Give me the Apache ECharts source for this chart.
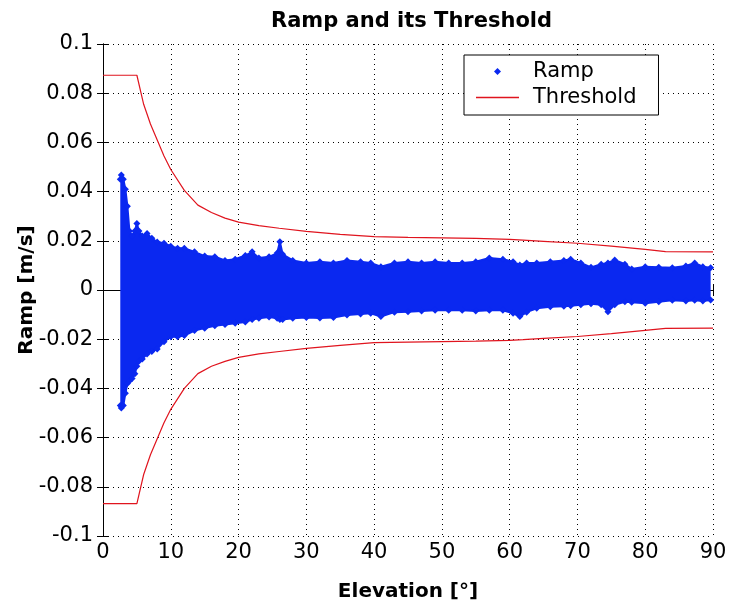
<!DOCTYPE html>
<html><head><meta charset="utf-8">
<script src="https://cdn.jsdelivr.net/npm/echarts@6/dist/echarts.min.js"></script>
<style>html,body{margin:0;padding:0;background:#fff}#c{width:731px;height:611px}</style>
</head><body><div id="c"></div>
<script>
// Ramp scatter cloud, read as its upper and lower envelope per elevation
const rampX = [2.55, 2.7, 3.0, 3.3, 3.6, 3.9, 4.3, 4.7, 5.0, 5.3, 5.8, 6.5, 7.2, 8.0, 9.0, 10.0, 11.0, 12.0, 13.5, 15, 16.5, 18, 19.5, 21, 22, 23, 24.5, 25.7, 26.1, 26.5, 28, 30, 32, 34, 36, 38, 39.5, 41, 43, 45, 47, 49, 51, 53, 55, 57, 59, 60.5, 61.5, 62.5, 64, 66, 68, 69, 70.5, 72, 73.5, 74.5, 75.5, 77, 78, 80, 82, 84, 86, 87.3, 88.5, 89.65];
const rampUpper = [0.045, 0.0467, 0.045, 0.041, 0.034, 0.024, 0.022, 0.024, 0.027, 0.024, 0.022, 0.023, 0.021, 0.0195, 0.019, 0.0178, 0.017, 0.017, 0.0155, 0.0138, 0.0135, 0.012, 0.0125, 0.014, 0.0155, 0.013, 0.0135, 0.015, 0.0196, 0.0145, 0.012, 0.011, 0.0115, 0.011, 0.012, 0.0115, 0.011, 0.0095, 0.011, 0.0115, 0.011, 0.0115, 0.011, 0.011, 0.0115, 0.013, 0.0125, 0.0115, 0.0102, 0.011, 0.011, 0.0115, 0.012, 0.0125, 0.011, 0.0092, 0.0105, 0.011, 0.0122, 0.0105, 0.0085, 0.0095, 0.0092, 0.009, 0.0098, 0.011, 0.0095, 0.009];
const rampLower = [-0.047, -0.048, -0.047, -0.042, -0.038, -0.037, -0.036, -0.034, -0.031, -0.029, -0.028, -0.026, -0.025, -0.024, -0.021, -0.019, -0.019, -0.0185, -0.0165, -0.0155, -0.0145, -0.014, -0.0135, -0.013, -0.012, -0.0115, -0.011, -0.0115, -0.012, -0.012, -0.0115, -0.0112, -0.0114, -0.0112, -0.0102, -0.0098, -0.0095, -0.0108, -0.009, -0.0088, -0.0085, -0.0082, -0.0082, -0.0082, -0.0085, -0.0082, -0.0082, -0.0095, -0.0108, -0.009, -0.0074, -0.0068, -0.0066, -0.0064, -0.006, -0.0056, -0.006, -0.0088, -0.006, -0.0048, -0.005, -0.0054, -0.0048, -0.0042, -0.0045, -0.0042, -0.0045, -0.0041];

// Threshold curves
const thrX = [0, 5, 6, 7, 8, 9, 10, 12, 14, 16, 18, 20, 23, 26, 30, 35, 40, 45, 50, 55, 60, 62, 65, 70, 75, 80, 83, 90];
const thrUpper = [0.0873, 0.0873, 0.0755, 0.0675, 0.061, 0.0545, 0.049, 0.0405, 0.0345, 0.0315, 0.0292, 0.0276, 0.0262, 0.0251, 0.0238, 0.0226, 0.0217, 0.0214, 0.0212, 0.021, 0.0206, 0.0203, 0.0198, 0.019, 0.0178, 0.0165, 0.0156, 0.0155];
const thrLower = [-0.0868, -0.0868, -0.075, -0.067, -0.0605, -0.054, -0.0485, -0.040, -0.034, -0.031, -0.029, -0.0274, -0.026, -0.025, -0.0237, -0.0225, -0.0214, -0.0212, -0.021, -0.0208, -0.0205, -0.0202, -0.0197, -0.0189, -0.0177, -0.0164, -0.0156, -0.0155];

// Tick labels
const xTickLabels = ['0', '10', '20', '30', '40', '50', '60', '70', '80', '90'];
const yTickLabels = ['-0.1', '-0.08', '-0.06', '-0.04', '-0.02', '0', '0.02', '0.04', '0.06', '0.08', '0.1'];

const zip = (xs, ys) => xs.map((x, i) => [x, ys[i]]);
const BLUE = '#0a28f0', RED = '#e0141e';
const FONT = 'DejaVu Sans';

const chart = echarts.init(document.getElementById('c'), null, {renderer: 'canvas'});
const rampSeries = (vals) => ({
  name: 'Ramp', type: 'line', data: zip(rampX, vals),
  symbol: 'diamond', symbolSize: 7, showSymbol: true,
  itemStyle: {color: BLUE}, lineStyle: {color: BLUE, width: 2},
  areaStyle: {color: BLUE, opacity: 1, origin: 0}, z: 2, silent: true
});
const thrSeries = (vals) => ({
  name: 'Threshold', type: 'line', data: zip(thrX, vals),
  symbol: 'none', itemStyle: {color: RED}, lineStyle: {color: RED, width: 1.2}, z: 3, silent: true
});
const dotted = {show: true, lineStyle: {color: '#000', width: 1, type: [1, 4]}};
chart.setOption({
  animation: false,
  backgroundColor: '#fff',
  textStyle: {fontFamily: FONT},
  title: {
    text: 'Ramp and its Threshold', left: 266, top: 6,
    textStyle: {fontFamily: FONT, fontWeight: 'bold', fontSize: 21, color: '#000'}
  },
  grid: {left: 103, right: 18, top: 44, bottom: 75, containLabel: false},
  legend: {
    orient: 'vertical', left: 464, top: 55, padding: [6, 22, 7, 12], itemGap: 5,
    itemWidth: 52, itemHeight: 10, borderColor: '#000', borderWidth: 1, backgroundColor: '#fff',
    selectedMode: false,
    textStyle: {fontFamily: FONT, fontSize: 21, color: '#000'},
    data: [
      {name: 'Ramp', icon: 'path://M0,0M52,10M21.5,1.5L25,5L21.5,8.5L18,5Z', itemStyle: {color: BLUE}},
      {name: 'Threshold', icon: 'path://M0,0M52,10M0,4.3H43V5.7H0Z', itemStyle: {color: RED}}
    ]
  },
  xAxis: [{
    type: 'value', min: 0, max: 90, interval: 10, position: 'bottom',
    name: 'Elevation [°]', nameLocation: 'middle', nameGap: 46, nameMoveOverlap: false,
    nameTextStyle: {fontFamily: FONT, fontWeight: 'bold', fontSize: 20, color: '#000'},
    axisLine: {show: true, lineStyle: {color: '#000', width: 1}},
    axisTick: {show: true, inside: true, length: 6, lineStyle: {color: '#000'}},
    axisLabel: {fontFamily: FONT, fontSize: 21, color: '#000', margin: 6,
      formatter: (v) => xTickLabels[Math.round(v / 10)]},
    splitLine: dotted
  }, {
    type: 'value', min: 0, max: 90, interval: 10, position: 'top',
    axisLine: {show: true, lineStyle: {color: '#000', width: 1}},
    axisTick: {show: true, inside: true, length: 6, lineStyle: {color: '#000'}},
    axisLabel: {show: false}, splitLine: {show: false}
  }],
  yAxis: [{
    type: 'value', min: -0.1, max: 0.1, interval: 0.02, position: 'left',
    name: 'Ramp [m/s]', nameLocation: 'middle', nameGap: 66, nameMoveOverlap: false,
    nameTextStyle: {fontFamily: FONT, fontWeight: 'bold', fontSize: 20, color: '#000'},
    axisLine: {show: true, lineStyle: {color: '#000', width: 1}},
    axisTick: {show: true, inside: true, length: 6, lineStyle: {color: '#000'}},
    axisLabel: {fontFamily: FONT, fontSize: 21, color: '#000', margin: 10,
      formatter: (v) => yTickLabels[Math.round((v + 0.1) / 0.02)]},
    splitLine: dotted
  }, {
    type: 'value', min: -0.1, max: 0.1, interval: 0.02, position: 'right',
    axisLine: {show: true, lineStyle: {color: '#000', width: 1}},
    axisTick: {show: true, inside: true, length: 6, lineStyle: {color: '#000'}},
    axisLabel: {show: false}, splitLine: {show: false}
  }],
  series: [rampSeries(rampUpper), rampSeries(rampLower), thrSeries(thrUpper), thrSeries(thrLower)]
});
</script></body></html>
